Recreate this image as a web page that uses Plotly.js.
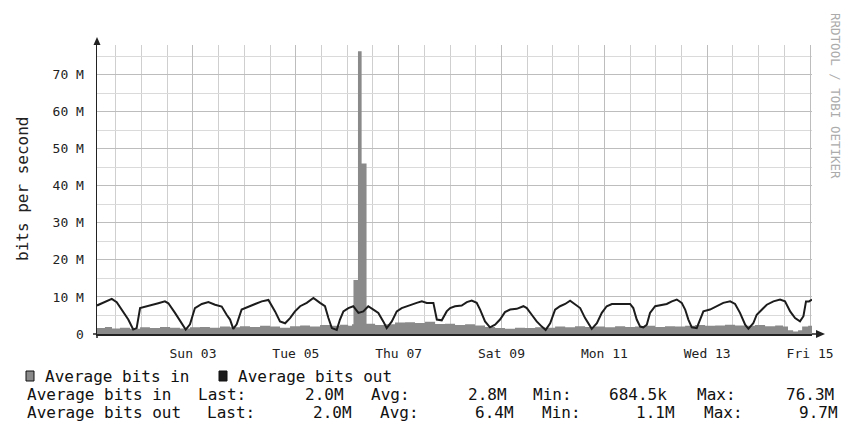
<!DOCTYPE html>
<html>
<head>
<meta charset="utf-8">
<script src="https://cdn.plot.ly/plotly-3.0.1.min.js"></script>
<style>html,body{margin:0;padding:0;background:#fff;}#chart{width:849px;height:421px;}</style>
</head>
<body>
<div id="chart"></div>
<script>
// ---- data (time in hours since 2013-03-01 00:00, values in Mbit/s) ----
const outHours = [3.2,6.9,10.1,12.4,14.7,17.8,20.1,21.7,23.3,25.6,28.7,31.8,34.9,36.5,39.6,42.7,44.6,46.6,48.9,52.1,55.2,58.3,61.4,63.7,65.3,66.8,68.4,70.7,73.8,77.0,80.1,83.2,86.3,88.6,91.0,93.3,95.6,98.0,101.1,104.2,107.3,109.6,111.2,112.8,115.1,116.6,118.2,120.5,122.8,125.2,127.5,129.8,132.2,134.5,136.8,138.4,140.8,143.1,145.4,147.8,150.1,152.4,154.8,157.1,160.2,161.8,164.1,166.4,168.0,170.3,173.4,175.8,178.1,180.4,182.0,184.3,186.6,189.0,191.3,193.6,196.0,199.1,202.2,203.8,206.1,208.4,210.8,212.6,214.7,217.0,219.3,221.7,224.0,226.3,228.7,231.0,234.1,236.5,238.8,241.1,243.5,246.5,249.7,252.0,253.5,255.1,256.7,258.2,259.8,261.3,263.7,266.8,269.1,271.5,273.8,276.1,277.7,279.2,280.8,283.1,284.7,286.2,289.3,292.5,295.5,298.7,301.0,303.3,305.7,307.2,309.5,311.1,313.5,315.8,318.9,322.0,324.3,326.7,329.0,331.3,332.9,334.1,335.5,336.9];
const outMbps = [7.7,8.6,9.5,8.6,6.6,3.9,1.2,1.6,7.0,7.4,7.9,8.3,8.8,8.3,5.7,3.0,1.2,2.6,7.0,8.1,8.6,7.9,7.4,5.2,3.9,1.4,2.6,6.6,7.4,8.1,8.8,9.2,6.1,3.4,2.9,4.3,6.1,7.5,8.4,9.7,8.4,7.5,4.3,1.6,1.1,3.9,6.1,7.0,7.5,5.7,6.1,7.5,6.6,5.7,3.4,1.6,3.4,6.1,7.0,7.5,8.1,8.4,8.8,8.4,8.4,3.9,3.7,6.1,7.0,7.5,7.7,8.6,9.0,8.4,6.6,3.4,1.8,2.5,3.9,5.9,6.6,6.8,7.5,7.0,5.2,3.4,2.0,1.1,2.9,6.6,7.5,8.1,9.0,8.1,7.0,4.3,1.4,2.9,5.7,7.5,8.1,8.1,8.1,8.1,7.0,3.9,2.0,1.8,2.5,5.7,7.5,7.9,8.1,8.8,9.3,8.4,6.6,3.9,1.8,1.6,3.9,6.1,6.6,7.5,8.4,8.8,8.1,5.7,2.5,1.4,2.9,5.2,6.6,7.9,8.8,9.3,8.8,6.1,4.3,3.4,4.8,8.8,8.8,9.3];
const inHours = [3.2,6.9,10.2,13.9,18.6,23.3,27.9,32.6,37.3,41.9,46.6,51.3,55.9,60.6,65.3,69.9,74.6,79.3,84.0,88.6,93.3,98.0,102.6,107.3,112.0,116.6,120.4,122.2,122.9,125.0,126.7,129.0,133.0,137.6,142.3,147.0,151.6,156.3,161.0,165.6,170.3,175.0,179.6,184.3,189.0,193.6,198.3,203.0,207.7,212.3,217.0,221.7,226.3,231.0,235.7,240.3,245.0,249.7,254.3,259.0,263.7,268.3,273.0,277.7,282.3,287.0,291.7,296.3,301.0,305.7,310.3,315.0,319.7,323.4,325.7,328.1,330.4,332.3,335.1,336.9];
const inMbps = [1.6,1.9,1.5,1.7,1.4,1.8,1.6,1.9,1.7,1.5,1.8,1.9,1.7,2.0,1.8,2.1,1.9,2.2,2.0,1.7,2.1,2.3,2.0,2.4,2.2,2.5,2.2,2.6,14.6,76.3,46.0,2.8,2.4,2.6,3.1,3.2,3.0,3.3,2.7,2.8,2.4,2.6,2.3,1.9,1.6,1.4,1.7,1.6,1.8,1.7,2.0,1.8,2.1,1.9,2.0,1.8,2.1,1.9,2.0,2.2,1.9,2.1,2.0,2.2,2.4,2.2,2.3,2.5,2.3,2.2,2.4,2.1,2.3,2.0,1.0,0.7,1.0,2.0,2.2,2.0];

const dayTicks = ['2013-03-03','2013-03-05','2013-03-07','2013-03-09','2013-03-11','2013-03-13','2013-03-15'];
const dayLabels = ['Sun 03','Tue 05','Thu 07','Sat 09','Mon 11','Wed 13','Fri 15'];
const yTickVals = [0,10,20,30,40,50,60,70];
const yTickText = ['0','10 M','20 M','30 M','40 M','50 M','60 M','70 M'];

const seriesNames = ['Average bits in','Average bits out'];
const statLabels = ['Last:','Avg:','Min:','Max:'];
const inStats = ['2.0M','2.8M','684.5k','76.3M'];
const outStats = ['2.0M','6.4M','1.1M','9.7M'];

// ---- helpers ----
const BASE = Date.UTC(2013,2,1,0,0,0);
function toDate(h){ return new Date(BASE + h*3600000).toISOString().slice(0,19).replace('T',' '); }

const W = 849, H = 421;
const L = 97, R = 812, T = 45, B = 334;
const PW = R - L, PH = B - T;
const px = x => (x - L) / PW;
const py = y => (B - y) / PH;

const MONO = 'DejaVu Sans Mono';
const IN_COLOR = '#8a8a8a';
const OUT_COLOR = '#1c1c1c';

const traces = [
  {x: inHours.map(toDate), y: inMbps, type:'scatter', mode:'lines', line:{shape:'hv', width:0, color:IN_COLOR},
   fill:'tozeroy', fillcolor:IN_COLOR, name:seriesNames[0], hoverinfo:'skip'},
  {x: outHours.map(toDate), y: outMbps, type:'scatter', mode:'lines', line:{width:2, color:OUT_COLOR},
   name:seriesNames[1], hoverinfo:'skip'}
];

const ann = [];
// y axis title
ann.push({xref:'paper', yref:'paper', x:px(22), y:py(189), text:'bits per second', textangle:-90, showarrow:false,
  font:{family:MONO, size:16, color:'#222'}, xanchor:'center', yanchor:'middle'});
// watermark
ann.push({xref:'paper', yref:'paper', x:px(836), y:py(96), text:'RRDTOOL / TOBI OETIKER', textangle:90, showarrow:false,
  font:{family:MONO, size:12.5, color:'#ababab'}, xanchor:'center', yanchor:'middle'});

function txt(x, y, s, anchor){
  ann.push({xref:'paper', yref:'paper', x:px(x), y:py(y), text:s, showarrow:false, xanchor:anchor, yanchor:'middle',
    font:{family:MONO, size:16, color:'#111'}});
}
// legend row 1
txt(43, 376, seriesNames[0], 'left');
txt(236, 376, seriesNames[1], 'left');
// row 2 (in)
const r2y = 394, r3y = 412;
txt(25, r2y, seriesNames[0], 'left');
txt(196, r2y, statLabels[0], 'left');
txt(346, r2y, inStats[0], 'right');
txt(369, r2y, statLabels[1], 'left');
txt(509, r2y, inStats[1], 'right');
txt(531, r2y, statLabels[2], 'left');
txt(669, r2y, inStats[2], 'right');
txt(695, r2y, statLabels[3], 'left');
txt(836, r2y, inStats[3], 'right');
// row 3 (out)
txt(25, r3y, seriesNames[1], 'left');
txt(205, r3y, statLabels[0], 'left');
txt(354, r3y, outStats[0], 'right');
txt(378, r3y, statLabels[1], 'left');
txt(516, r3y, outStats[1], 'right');
txt(540, r3y, statLabels[2], 'left');
txt(677, r3y, outStats[2], 'right');
txt(702, r3y, statLabels[3], 'left');
txt(840, r3y, outStats[3], 'right');

const shapes = [
  // legend swatches
  {type:'rect', xref:'paper', yref:'paper', x0:px(26), x1:px(34), y0:py(381), y1:py(371), fillcolor:IN_COLOR, line:{color:'#111', width:1}},
  {type:'rect', xref:'paper', yref:'paper', x0:px(219), x1:px(227), y0:py(381), y1:py(371), fillcolor:OUT_COLOR, line:{color:'#111', width:1}},
  // x axis arrow
  {type:'path', xref:'paper', yref:'paper', xsizemode:'pixel', ysizemode:'pixel', xanchor:1, yanchor:0,
   path:'M 0 -0.7 L 4 -0.7 L 4 -4 L 13 0 L 4 4 L 4 0.7 L 0 0.7 Z', fillcolor:'#222', line:{width:0}},
  // y axis arrow
  {type:'path', xref:'paper', yref:'paper', xsizemode:'pixel', ysizemode:'pixel', xanchor:0, yanchor:1,
   path:'M -3.5 0 L 3.5 0 L 0 8 Z', fillcolor:'#222', line:{width:0}},
  // axis stubs below origin
  {type:'line', xref:'paper', yref:'paper', xsizemode:'pixel', ysizemode:'pixel', xanchor:0, yanchor:0,
   x0:0, x1:0, y0:0, y1:-4, line:{color:'#222', width:1.5}},
  {type:'line', xref:'paper', yref:'paper', xsizemode:'pixel', ysizemode:'pixel', xanchor:0, yanchor:0,
   x0:-4, x1:0, y0:0, y1:0, line:{color:'#222', width:1.5}}
];

const layout = {
  width:W, height:H,
  margin:{l:L, r:W-R, t:T, b:H-B, pad:0},
  paper_bgcolor:'#fff', plot_bgcolor:'#fff',
  showlegend:false,
  xaxis:{type:'date', range:[toDate(3.2), toDate(336.9)], tickmode:'array', tickvals:dayTicks, ticktext:dayLabels,
    showgrid:true, gridcolor:'#bdbdbd', gridwidth:1, zeroline:false,
    minor:{tick0:'2013-03-01', dtick:12*3600000, showgrid:true, gridcolor:'#cfcfcf', gridwidth:1},
    showline:true, linecolor:'#222', linewidth:1.5, ticks:'', ticklabelstandoff:7,
    tickfont:{family:MONO, size:13, color:'#222'}, fixedrange:true},
  yaxis:{range:[0,78], tickmode:'array', tickvals:yTickVals, ticktext:yTickText,
    showgrid:true, gridcolor:'#bdbdbd', gridwidth:1, zeroline:false,
    minor:{tick0:0, dtick:5, showgrid:true, gridcolor:'#dadada', gridwidth:1},
    showline:true, linecolor:'#222', linewidth:1.5, ticks:'', ticklabelstandoff:9,
    tickfont:{family:MONO, size:13, color:'#222'}, fixedrange:true},
  annotations:ann,
  shapes:shapes
};

Plotly.newPlot('chart', traces, layout, {staticPlot:true, displayModeBar:false});
</script>
</body>
</html>
